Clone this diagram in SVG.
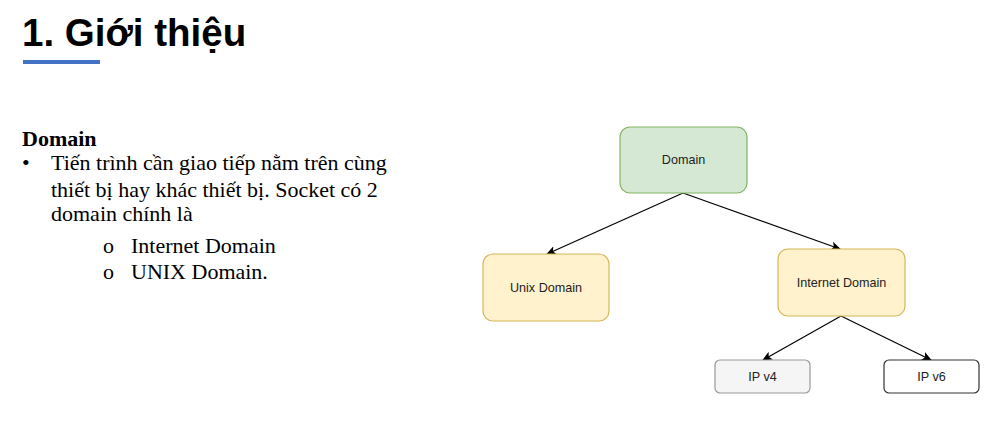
<svg xmlns="http://www.w3.org/2000/svg" width="989" height="432" viewBox="0 0 989 432">
<style>
.title{font-family:"Liberation Sans",Arial,sans-serif;font-weight:bold;font-size:38.5px;fill:#000}
.body{font-family:"Liberation Serif","Times New Roman",serif;font-size:22px;fill:#000}
.lbl{font-family:"Liberation Sans",Arial,sans-serif;font-size:12.6px;fill:#222;text-anchor:middle;dominant-baseline:central}
.edge{stroke:#000;stroke-width:1.2;fill:none;marker-end:url(#arr)}
</style>
<defs>
<marker id="arr" viewBox="0 0 10 10" refX="9" refY="5" markerWidth="10" markerHeight="10" markerUnits="userSpaceOnUse" orient="auto">
<path d="M0,0.5 L10,5 L0,9.5 L2.5,5 Z" fill="#000"/>
</marker>
</defs>
<rect width="989" height="432" fill="#fff"/>
<g id="heading">
<text class="title" x="22" y="46">1. Giới thiệu</text>
<rect x="23" y="60" width="77" height="4" fill="#4472C4"/>
</g>
<g id="text">
<text class="body" x="22" y="146" font-weight="bold">Domain</text>
<text class="body" x="22" y="170">•</text>
<text class="body" x="51" y="170">Tiến trình cần giao tiếp nằm trên cùng</text>
<text class="body" x="51" y="197">thiết bị hay khác thiết bị. Socket có 2</text>
<text class="body" x="51" y="221">domain chính là</text>
<text class="body" x="103" y="253">o</text>
<text class="body" x="131" y="253">Internet Domain</text>
<text class="body" x="103" y="279">o</text>
<text class="body" x="131" y="279">UNIX Domain.</text>
</g>
<g id="connectors">
<line class="edge" x1="683" y1="193" x2="547" y2="254"/>
<line class="edge" x1="683" y1="193" x2="840" y2="249"/>
<line class="edge" x1="841" y1="316" x2="763" y2="360"/>
<line class="edge" x1="841" y1="316" x2="931" y2="360"/>
</g>
<g id="node-domain">
<rect x="620" y="127" width="127" height="66" rx="10" fill="#d5e8d4" stroke="#82b366" stroke-width="1.2"/>
<text class="lbl" x="683.5" y="160">Domain</text>
</g>
<g id="node-unix">
<rect x="483" y="254" width="126" height="67" rx="10" fill="#fff2cc" stroke="#d6b656" stroke-width="1.2"/>
<text class="lbl" x="546" y="288">Unix Domain</text>
</g>
<g id="node-internet">
<rect x="778" y="249" width="127" height="67" rx="10" fill="#fff2cc" stroke="#d6b656" stroke-width="1.2"/>
<text class="lbl" x="841.5" y="283">Internet Domain</text>
</g>
<g id="node-ipv4">
<rect x="715" y="360" width="95" height="33" rx="5" fill="#f5f5f5" stroke="#999999" stroke-width="1.2"/>
<text class="lbl" x="762.5" y="377" fill="#333">IP v4</text>
</g>
<g id="node-ipv6">
<rect x="884" y="360" width="95" height="33" rx="5" fill="#ffffff" stroke="#333333" stroke-width="1.2"/>
<text class="lbl" x="931.5" y="377">IP v6</text>
</g>
</svg>
